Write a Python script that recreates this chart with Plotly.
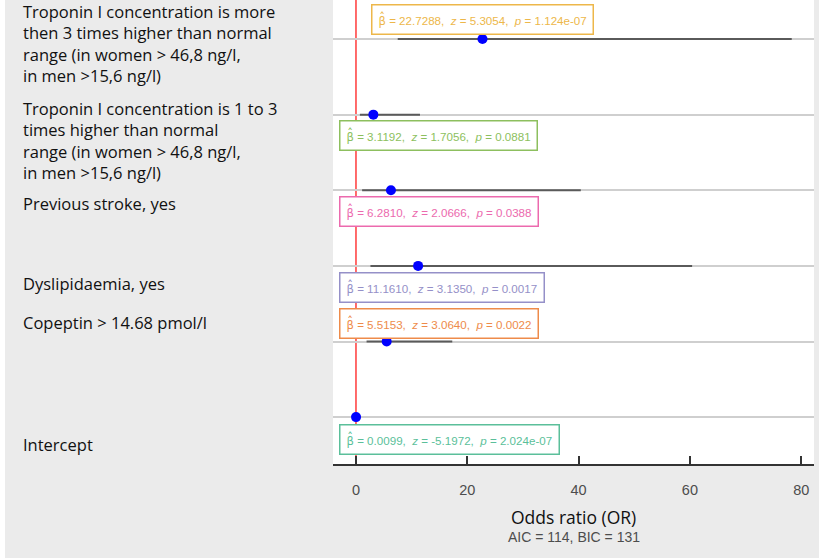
import plotly.graph_objects as go

# Logistic regression results: odds ratios with 95% confidence limits
rows = [0, 1, 2, 3, 4, 5]
labels = [
    "Intercept",
    "Copeptin > 14.68 pmol/l",
    "Dyslipidaemia, yes",
    "Previous stroke, yes",
    "Troponin I concentration is 1 to 3<br>times higher than normal<br>"
    "range (in women > 46,8 ng/l,<br>in men >15,6 ng/l)",
    "Troponin I concentration is more<br>then 3 times higher than normal<br>"
    "range (in women > 46,8 ng/l,<br>in men >15,6 ng/l)",
]
odds_ratio = [0.0099, 5.5153, 11.1610, 6.2810, 3.1192, 22.7288]
ci_lower = [0.0, 1.9, 2.6, 1.1, 0.7, 7.5]
ci_upper = [0.05, 17.3, 60.4, 40.4, 11.5, 78.3]
z_values = ["-5.1972", "3.0640", "3.1350", "2.0666", "1.7056", "5.3054"]
p_values = ["2.024e-07", "0.0022", "0.0017", "0.0388", "0.0881", "1.124e-07"]
beta_text = ["0.0099", "5.5153", "11.1610", "6.2810", "3.1192", "22.7288"]
x_ticks = [0, 20, 40, 60, 80]
x_title = "Odds ratio (OR)"
fit_stats = "AIC = 114, BIC = 131"

# Styling per row
box_colors = ["#5bbf9a", "#ee8b4a", "#9590c8", "#ec6aae", "#8dbf5e", "#edb74a"]
box_shift = [-22, 18, -22, -21, -21, 20]
label_shift = [-27, 19, -18, -13, -26, -4]

GREY_BG = "#ebebeb"
LABEL_FONT = "Open Sans"
NUM_FONT = "Liberation Sans, Arial"

fig = go.Figure()

fig.add_trace(go.Scatter(
    x=odds_ratio,
    y=rows,
    mode="markers",
    marker=dict(color="#0000ff", size=10),
    error_x=dict(
        type="data",
        symmetric=False,
        array=[u - o for u, o in zip(ci_upper, odds_ratio)],
        arrayminus=[o - l for o, l in zip(odds_ratio, ci_lower)],
        width=0,
        thickness=2,
        color="#5a5a5a",
    ),
    showlegend=False,
    hoverinfo="skip",
))

beta_hat = "<span style='font-family:DejaVu Sans'>β\u0302</span>"

annotations = []
for i, r in enumerate(rows):
    text = (f"{beta_hat} = {beta_text[i]},  <i>z</i> = {z_values[i]},  "
            f"<i>p</i> = {p_values[i]}")
    top_row = i == len(rows) - 1
    annotations.append(dict(
        x=odds_ratio[i] if top_row else -3.05,
        xanchor="center" if top_row else "left",
        y=r, yanchor="middle", yshift=box_shift[i],
        xref="x", yref="y",
        text=text, showarrow=False,
        font=dict(family=NUM_FONT, size=11.6, color=box_colors[i]),
        bgcolor="white", bordercolor=box_colors[i], borderwidth=1.5, borderpad=6,
    ))
    annotations.append(dict(
        x=-0.6485, xref="paper", xanchor="left",
        y=r, yref="y", yanchor="middle", yshift=label_shift[i],
        text=labels[i], showarrow=False, align="left",
        font=dict(family=LABEL_FONT, size=16.5, color="#111111"),
    ))

# axis title and model fit statistics stacked under the x axis
annotations.append(dict(
    x=0.5, xref="paper", y=-0.1401, yref="paper", yanchor="bottom",
    text=x_title, showarrow=False, borderpad=0, borderwidth=0,
    font=dict(family=LABEL_FONT, size=17.5, color="#111111"),
))
annotations.append(dict(
    x=0.5, xref="paper", y=-0.1401, yref="paper", yanchor="top",
    text=fit_stats, showarrow=False, borderpad=0, borderwidth=0,
    font=dict(family=NUM_FONT, size=14, color="#4d4d4d"),
))

shapes = [
    # reference line at OR = 0 position
    dict(type="line", xref="x", yref="paper", x0=0, x1=0, y0=0, y1=1,
         line=dict(color="#ff3b3b", width=1.5), layer="between"),
    # thin white strip along the left edge
    dict(type="rect", xref="paper", yref="paper", x0=-0.6923, x1=-0.6819,
         y0=-0.21, y1=1.0, fillcolor="white", line=dict(width=0), layer="below"),
]

fig.update_layout(
    width=819, height=558,
    margin=dict(l=333, r=5, t=0, b=94),
    paper_bgcolor=GREY_BG,
    plot_bgcolor="white",
    annotations=annotations,
    shapes=shapes,
    xaxis=dict(
        range=[-4.13, 82.3],
        tickvals=x_ticks,
        ticks="inside", ticklen=8, tickwidth=1.5, tickcolor="#333333",
        showline=True, linecolor="#333333", linewidth=1.5,
        showgrid=False, zeroline=False,
        tickfont=dict(family=NUM_FONT, size=14.5, color="#4d4d4d"),
        ticklabelstandoff=12,
        fixedrange=True,
    ),
    yaxis=dict(
        range=[-0.62, 5.516],
        tickvals=rows,
        showticklabels=False,
        showgrid=True, gridcolor="#cfcfcf", gridwidth=2,
        zeroline=False, showline=False, ticks="",
        fixedrange=True,
    ),
)

fig.write_html("out.html")
